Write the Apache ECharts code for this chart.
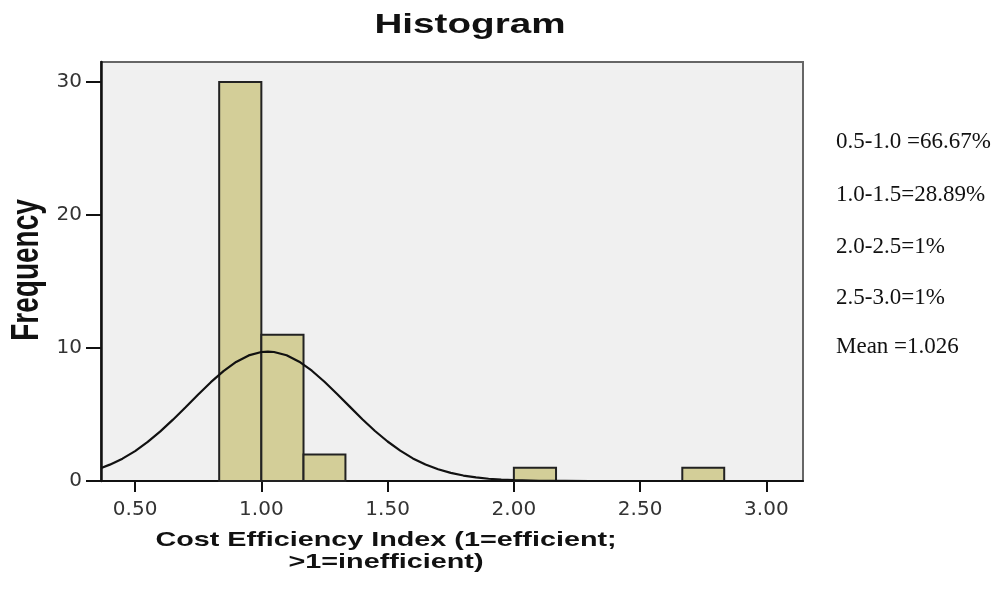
<!DOCTYPE html>
<html>
<head>
<meta charset="utf-8">
<script src="https://cdn.jsdelivr.net/npm/echarts@6/dist/echarts.min.js"></script>
<style>
html,body{margin:0;padding:0;background:#fff;}
#chart{width:998px;height:591px;}
</style>
</head>
<body>
<div id="chart"></div>
<script>
// Histogram bins (Cost Efficiency Index)
const binStart = [0.833, 1.000, 1.167, 2.000, 2.667];
const binEnd   = [1.000, 1.167, 1.333, 2.167, 2.833];
const frequency = [30, 11, 2, 1, 1];

// Normal curve
const curveX = [0.366, 0.40, 0.45, 0.50, 0.55, 0.60, 0.65, 0.70, 0.75, 0.80, 0.85, 0.90, 0.95, 1.00, 1.026, 1.05, 1.10, 1.15, 1.20, 1.25, 1.30, 1.35, 1.40, 1.45, 1.50, 1.55, 1.60, 1.65, 1.70, 1.75, 1.80, 1.85, 1.90, 1.95, 2.00, 2.10, 2.20, 2.30, 2.50, 3.00, 3.145];
const curveY = [0.97, 1.23, 1.68, 2.25, 2.94, 3.73, 4.61, 5.55, 6.50, 7.43, 8.26, 8.95, 9.44, 9.70, 9.73, 9.70, 9.45, 8.97, 8.29, 7.46, 6.54, 5.59, 4.64, 3.76, 2.97, 2.28, 1.70, 1.24, 0.88, 0.61, 0.41, 0.27, 0.17, 0.11, 0.06, 0.02, 0.01, 0.00, 0.00, 0.00, 0.00];

// Tick labels
const xTicks = [0.5, 1.0, 1.5, 2.0, 2.5, 3.0];
const yTicks = [0, 10, 20, 30];

// Side annotations
const notes = ['0.5-1.0 =66.67%', '1.0-1.5=28.89%', '2.0-2.5=1%', '2.5-3.0=1%', 'Mean =1.026'];

const chart = echarts.init(document.getElementById('chart'), null, {renderer: 'canvas'});

const barData = binStart.map((s, i) => [s, binEnd[i], frequency[i]]);
const lineData = curveX.map((x, i) => [x, curveY[i]]);

const noteYs = [142, 195, 247, 298, 347];
const sans = '"Liberation Sans", Arial, sans-serif';
const graphics = [
  {type: 'text', x: 470, y: 25, scaleX: 1.38, style: {text: 'Histogram', font: 'bold 28px ' + sans, fill: '#111', textAlign: 'center', textVerticalAlign: 'middle'}},
  {type: 'text', x: 27, y: 270, rotation: Math.PI / 2, scaleY: 1.37, style: {text: 'Frequency', font: 'bold 28px ' + sans, fill: '#111', textAlign: 'center', textVerticalAlign: 'middle'}},
  {type: 'text', x: 386, y: 540, scaleX: 1.37, style: {text: 'Cost Efficiency Index (1=efficient;', font: 'bold 21px ' + sans, fill: '#111', textAlign: 'center', textVerticalAlign: 'middle'}},
  {type: 'text', x: 386, y: 562, scaleX: 1.37, style: {text: '>1=inefficient)', font: 'bold 21px ' + sans, fill: '#111', textAlign: 'center', textVerticalAlign: 'middle'}}
];
notes.forEach((t, i) => {
  graphics.push({type: 'text', x: 836, y: noteYs[i], style: {text: t, font: '23px "Liberation Serif", "Times New Roman", serif', fill: '#111', textAlign: 'left', textVerticalAlign: 'middle'}});
});

const option = {
  animation: false,
  backgroundColor: '#ffffff',
  grid: {left: 101, right: 195, top: 62, bottom: 110, show: true, backgroundColor: '#F0F0F0', borderColor: '#666', borderWidth: 2},
  xAxis: {
    type: 'value', min: 0.365, max: 3.145,
    axisLine: {show: true, onZero: false, lineStyle: {color: '#111', width: 2}},
    axisTick: {show: true, customValues: xTicks, length: 11, lineStyle: {color: '#111', width: 2}},
    axisLabel: {customValues: xTicks, formatter: v => Number(v).toFixed(2), margin: 19, color: '#333', fontSize: 20, fontFamily: '"DejaVu Sans", sans-serif'},
    splitLine: {show: false}
  },
  yAxis: {
    type: 'value', min: 0, max: 31.5,
    axisLine: {show: true, lineStyle: {color: '#111', width: 2.5}},
    axisTick: {show: true, customValues: yTicks, length: 15, lineStyle: {color: '#111', width: 2}},
    axisLabel: {customValues: yTicks, margin: 19, color: '#333', fontSize: 20, fontFamily: '"DejaVu Sans", sans-serif'},
    splitLine: {show: false}
  },
  graphic: graphics,
  series: [
    {
      type: 'custom',
      data: barData,
      encode: {x: [0, 1], y: 2},
      z: 2,
      renderItem: function (params, api) {
        const p0 = api.coord([api.value(0), 0]);
        const p1 = api.coord([api.value(1), api.value(2)]);
        return {
          type: 'rect',
          shape: {x: p0[0], y: p1[1], width: p1[0] - p0[0], height: p0[1] - p1[1]},
          style: {fill: '#D3CE98', stroke: '#222', lineWidth: 2}
        };
      }
    },
    {
      type: 'line',
      data: lineData,
      showSymbol: false,
      symbol: 'none',
      smooth: false,
      z: 3,
      lineStyle: {color: '#111', width: 2.2}
    }
  ]
};
chart.setOption(option);
</script>
</body>
</html>
